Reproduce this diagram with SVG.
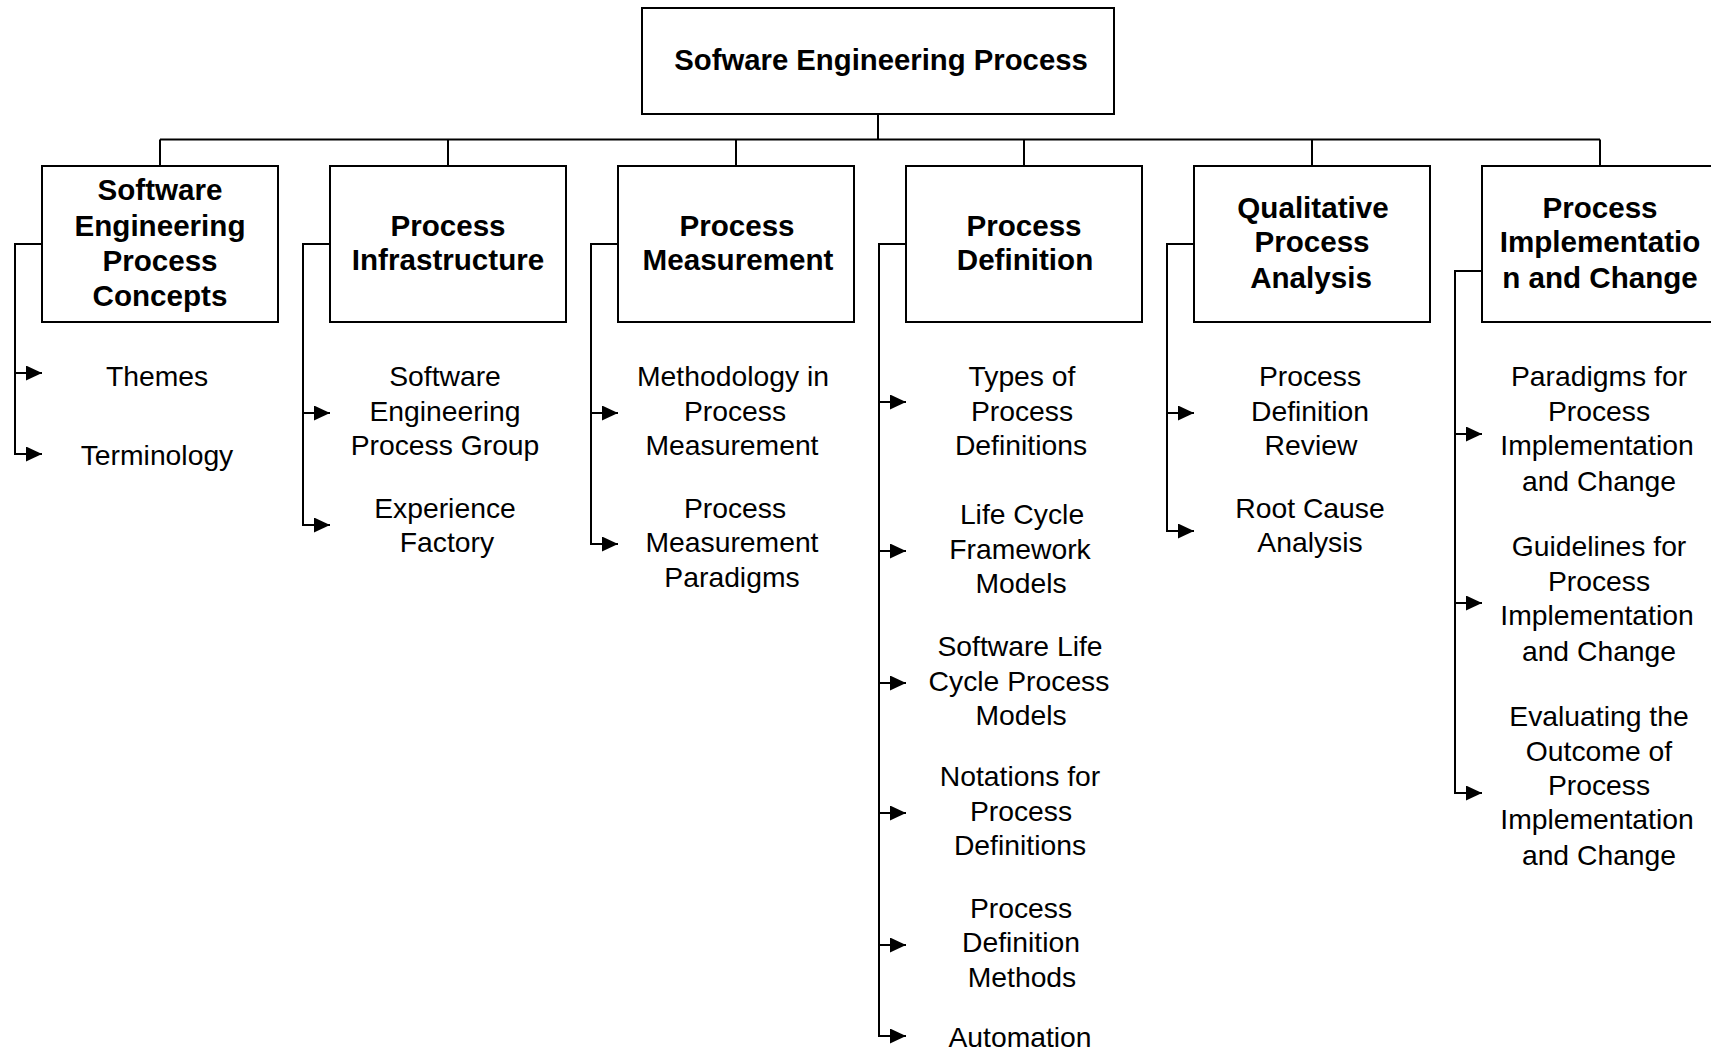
<svg xmlns="http://www.w3.org/2000/svg" width="1711" height="1050" viewBox="0 0 1711 1050">
<defs>
<marker id="ah" markerWidth="16" markerHeight="15" refX="16" refY="7.5" orient="auto" markerUnits="userSpaceOnUse">
<path d="M0,0 L16,7.5 L0,15 Z" fill="#000"/>
</marker>
<style>
.box{fill:#fff;stroke:#000;stroke-width:2}
.ln{fill:none;stroke:#000;stroke-width:2}
.t{font-family:"Liberation Sans",Arial,sans-serif;font-weight:bold;font-size:29.6px;text-anchor:middle;fill:#000}
.r{font-size:29.3px}
.l{font-family:"Liberation Sans",Arial,sans-serif;font-size:28.3px;text-anchor:middle;fill:#000}
</style>
</defs>
<rect width="1711" height="1050" fill="#fff"/>
<g id="connectors">
<path class="ln" d="M878,114 V139.5 M160,139.5 H1600 M160,139.5 V166 M448,139.5 V166 M736,139.5 V166 M1024,139.5 V166 M1312,139.5 V166 M1600,139.5 V166"/>
<path class="ln" d="M42,244 H15 V454 H42" marker-end="url(#ah)"/>
<path class="ln" d="M15,373 H42" marker-end="url(#ah)"/>
<path class="ln" d="M330,244 H303 V525 H330" marker-end="url(#ah)"/>
<path class="ln" d="M303,413 H330" marker-end="url(#ah)"/>
<path class="ln" d="M618,244 H591 V544 H618" marker-end="url(#ah)"/>
<path class="ln" d="M591,413 H618" marker-end="url(#ah)"/>
<path class="ln" d="M906,244 H879 V1036 H906" marker-end="url(#ah)"/>
<path class="ln" d="M879,402 H906" marker-end="url(#ah)"/>
<path class="ln" d="M879,551 H906" marker-end="url(#ah)"/>
<path class="ln" d="M879,683 H906" marker-end="url(#ah)"/>
<path class="ln" d="M879,813 H906" marker-end="url(#ah)"/>
<path class="ln" d="M879,945 H906" marker-end="url(#ah)"/>
<path class="ln" d="M1194,244 H1167 V531 H1194" marker-end="url(#ah)"/>
<path class="ln" d="M1167,413 H1194" marker-end="url(#ah)"/>
<path class="ln" d="M1482,271 H1455 V793 H1482" marker-end="url(#ah)"/>
<path class="ln" d="M1455,434 H1482" marker-end="url(#ah)"/>
<path class="ln" d="M1455,603 H1482" marker-end="url(#ah)"/>
</g>
<g id="root">
<rect class="box" x="642" y="8" width="472" height="106"/>
<text class="t r" x="881" y="70">Sofware Engineering Process</text>
</g>
<g id="concepts">
<rect class="box" x="42" y="166" width="236" height="156"/>
<text class="t" x="160" y="200">Software</text>
<text class="t" x="160" y="235.5">Engineering</text>
<text class="t" x="160" y="270.5">Process</text>
<text class="t" x="160" y="306">Concepts</text>
</g>
<g id="themes"><text class="l" x="157" y="386">Themes</text></g>
<g id="terminology"><text class="l" x="157" y="465">Terminology</text></g>
<g id="infrastructure">
<rect class="box" x="330" y="166" width="236" height="156"/>
<text class="t" x="448" y="236">Process</text>
<text class="t" x="448" y="270">Infrastructure</text>
</g>
<g id="sepg"><text class="l" x="445" y="386">Software</text><text class="l" x="445" y="421">Engineering</text><text class="l" x="445" y="455">Process Group</text></g>
<g id="expfactory"><text class="l" x="445" y="518">Experience</text><text class="l" x="447" y="552">Factory</text></g>
<g id="measurement">
<rect class="box" x="618" y="166" width="236" height="156"/>
<text class="t" x="737" y="236">Process</text>
<text class="t" x="738" y="270">Measurement</text>
</g>
<g id="methodology"><text class="l" x="733" y="386">Methodology in</text><text class="l" x="735" y="421">Process</text><text class="l" x="732" y="455">Measurement</text></g>
<g id="paradigms-m"><text class="l" x="735" y="518">Process</text><text class="l" x="732" y="552">Measurement</text><text class="l" x="732" y="587">Paradigms</text></g>
<g id="definition">
<rect class="box" x="906" y="166" width="236" height="156"/>
<text class="t" x="1024" y="236">Process</text>
<text class="t" x="1025" y="270">Definition</text>
</g>
<g id="types"><text class="l" x="1022" y="386">Types of</text><text class="l" x="1022" y="421">Process</text><text class="l" x="1021" y="455">Definitions</text></g>
<g id="lifecycle"><text class="l" x="1022" y="524">Life Cycle</text><text class="l" x="1020" y="559">Framework</text><text class="l" x="1021" y="593">Models</text></g>
<g id="swlifecycle"><text class="l" x="1020" y="656">Software Life</text><text class="l" x="1019" y="691">Cycle Process</text><text class="l" x="1021" y="725">Models</text></g>
<g id="notations"><text class="l" x="1020" y="786">Notations for</text><text class="l" x="1021" y="821">Process</text><text class="l" x="1020" y="855">Definitions</text></g>
<g id="defmethods"><text class="l" x="1021" y="918">Process</text><text class="l" x="1021" y="952">Definition</text><text class="l" x="1022" y="987">Methods</text></g>
<g id="automation"><text class="l" x="1020" y="1047">Automation</text></g>
<g id="qualitative">
<rect class="box" x="1194" y="166" width="236" height="156"/>
<text class="t" x="1313" y="218">Qualitative</text>
<text class="t" x="1312" y="252">Process</text>
<text class="t" x="1311" y="288">Analysis</text>
</g>
<g id="defreview"><text class="l" x="1310" y="386">Process</text><text class="l" x="1310" y="421">Definition</text><text class="l" x="1311" y="455">Review</text></g>
<g id="rootcause"><text class="l" x="1310" y="518">Root Cause</text><text class="l" x="1310" y="552">Analysis</text></g>
<g id="implementation">
<rect class="box" x="1482" y="166" width="236" height="156"/>
<text class="t" x="1600" y="218">Process</text>
<text class="t" x="1600" y="252">Implementatio</text>
<text class="t" x="1600" y="288">n and Change</text>
</g>
<g id="paradigms-i"><text class="l" x="1599" y="386">Paradigms for</text><text class="l" x="1599" y="421">Process</text><text class="l" x="1597" y="455">Implementation</text><text class="l" x="1599" y="491">and Change</text></g>
<g id="guidelines"><text class="l" x="1599" y="556">Guidelines for</text><text class="l" x="1599" y="591">Process</text><text class="l" x="1597" y="625">Implementation</text><text class="l" x="1599" y="661">and Change</text></g>
<g id="evaluating"><text class="l" x="1599" y="726">Evaluating the</text><text class="l" x="1599" y="761">Outcome of</text><text class="l" x="1599" y="795">Process</text><text class="l" x="1597" y="829">Implementation</text><text class="l" x="1599" y="865">and Change</text></g>
</svg>
